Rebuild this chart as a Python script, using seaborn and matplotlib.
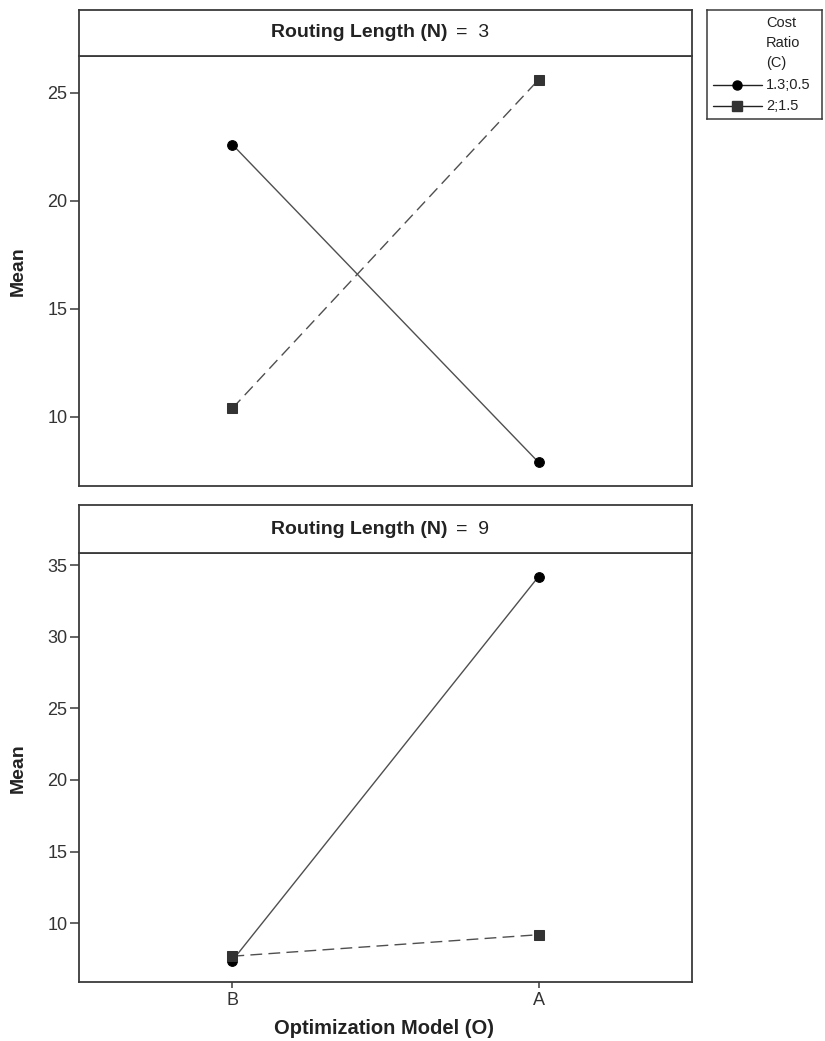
import matplotlib
matplotlib.use("Agg")
import matplotlib.pyplot as plt
from matplotlib.lines import Line2D
import pandas as pd
import seaborn as sns

# Factor levels
models = ["B", "A"]                  # Optimization Model (O)
ratios = ["1.3;0.5", "2;1.5"]        # Cost Ratio (C)
routing_lengths = [3, 9]             # Routing Length (N)

# Cell means, ordered as in `models`
mean_n3_c1 = [22.6, 7.9]
mean_n3_c2 = [10.4, 25.6]
mean_n9_c1 = [7.4, 34.2]
mean_n9_c2 = [7.7, 9.2]

rows = []
for n, series in zip(routing_lengths, [(mean_n3_c1, mean_n3_c2), (mean_n9_c1, mean_n9_c2)]):
    for ratio, values in zip(ratios, series):
        for model, v in zip(models, values):
            rows.append({"N": n, "O": model, "C": ratio, "Mean": v})
df = pd.DataFrame(rows)

sns.set_theme(style="white")
plt.rcParams["font.family"] = ["Liberation Sans", "DejaVu Sans"]

W, H = 825, 1041
fig = plt.figure(figsize=(W / 100, H / 100), dpi=100)


def box(x0, y0, x1, y1):
    """Pixel box (top-left origin) to figure-fraction rect."""
    return [x0 / W, 1 - y1 / H, (x1 - x0) / W, (y1 - y0) / H]


EDGE = "#3a3a3a"
LINE = "#4f4f4f"
MARK = ["#000000", "#333333"]
TEXT = "#222222"
LEFT, RIGHT = 79.3, 691.7

panels = [
    dict(n=3, strip=(10, 55.7), plot=(55.7, 485.7), ylim=(6.82, 26.71), yticks=[10, 15, 20, 25]),
    dict(n=9, strip=(505, 553.3), plot=(553.3, 982), ylim=(5.90, 35.82), yticks=[10, 15, 20, 25, 30, 35]),
]

for i, p in enumerate(panels):
    ax = fig.add_axes(box(LEFT, p["plot"][0], RIGHT, p["plot"][1]))
    sub = df[df["N"] == p["n"]]
    sns.pointplot(data=sub, x="O", y="Mean", hue="C", order=models, hue_order=ratios,
                  markers=["o", "s"], linestyles=["-", "--"], palette=MARK,
                  markersize=7, linewidth=1.0, errorbar=None, legend=False, ax=ax)
    for ln, mc, dashed in zip(ax.lines, MARK, [False, True]):
        ln.set_color(LINE)
        ln.set_markerfacecolor(mc)
        ln.set_markeredgecolor(mc)
        ln.set_zorder(3)
        if dashed:
            ln.set_dashes([8.5, 4.5])
    ax.set_xlim(-0.5, 1.5)
    ax.set_ylim(*p["ylim"])
    ax.set_yticks(p["yticks"])
    ax.set_ylabel("")
    ax.set_xlabel("")
    for s in ax.spines.values():
        s.set_color(EDGE)
        s.set_linewidth(1.3)
    ax.tick_params(axis="y", direction="out", length=6.5, width=1.1, color=EDGE,
                   labelsize=13, labelcolor="#333333", pad=2, left=True)
    if i == 0:
        ax.tick_params(axis="x", bottom=False, labelbottom=False)
    else:
        ax.tick_params(axis="x", direction="out", length=4.5, width=1.1, color=EDGE,
                       labelsize=13, labelcolor="#333333", pad=3, bottom=True)

    # Strip header
    sax = fig.add_axes(box(LEFT, p["strip"][0], RIGHT, p["strip"][1]))
    sax.set_xticks([])
    sax.set_yticks([])
    for s in sax.spines.values():
        s.set_color(EDGE)
        s.set_linewidth(1.3)
    span = RIGHT - LEFT
    sax.text((447 - LEFT) / span, 0.5, "Routing Length (N)",
             transform=sax.transAxes, ha="right", va="center",
             fontsize=14, fontweight="bold", color=TEXT)
    sax.text((456 - LEFT) / span, 0.5, f"=  {p['n']}",
             transform=sax.transAxes, ha="left", va="center",
             fontsize=14, color=TEXT)

    yc = (p["plot"][0] + p["plot"][1]) / 2
    fig.text(18 / W, 1 - yc / H, "Mean", rotation=90, ha="center", va="center",
             fontsize=14, fontweight="bold", color=TEXT)

fig.text(384 / W, 1 - 1028 / H, "Optimization Model (O)", ha="center", va="center",
         fontsize=14.5, fontweight="bold", color=TEXT)

# Legend panel
lax = fig.add_axes(box(707, 10, 822, 119))
lax.set_xlim(707, 822)
lax.set_ylim(119, 10)
lax.set_xticks([])
lax.set_yticks([])
for s in lax.spines.values():
    s.set_color(EDGE)
    s.set_linewidth(1.1)
for txt, y in zip(["Cost", "Ratio", "(C)"], [23, 43, 63]):
    lax.text(766, y, txt, ha="left", va="center", fontsize=10.5, color=TEXT)
for label, y, mk, mc in zip(ratios, [85, 106], ["o", "s"], MARK):
    lax.add_line(Line2D([713, 762], [y, y], color=TEXT, lw=1.0))
    lax.add_line(Line2D([737], [y], marker=mk, markersize=6.5, color=mc, lw=0))
    lax.text(766, y, label, ha="left", va="center", fontsize=10.5, color=TEXT)

fig.savefig("out.png", dpi=100, facecolor="white")
